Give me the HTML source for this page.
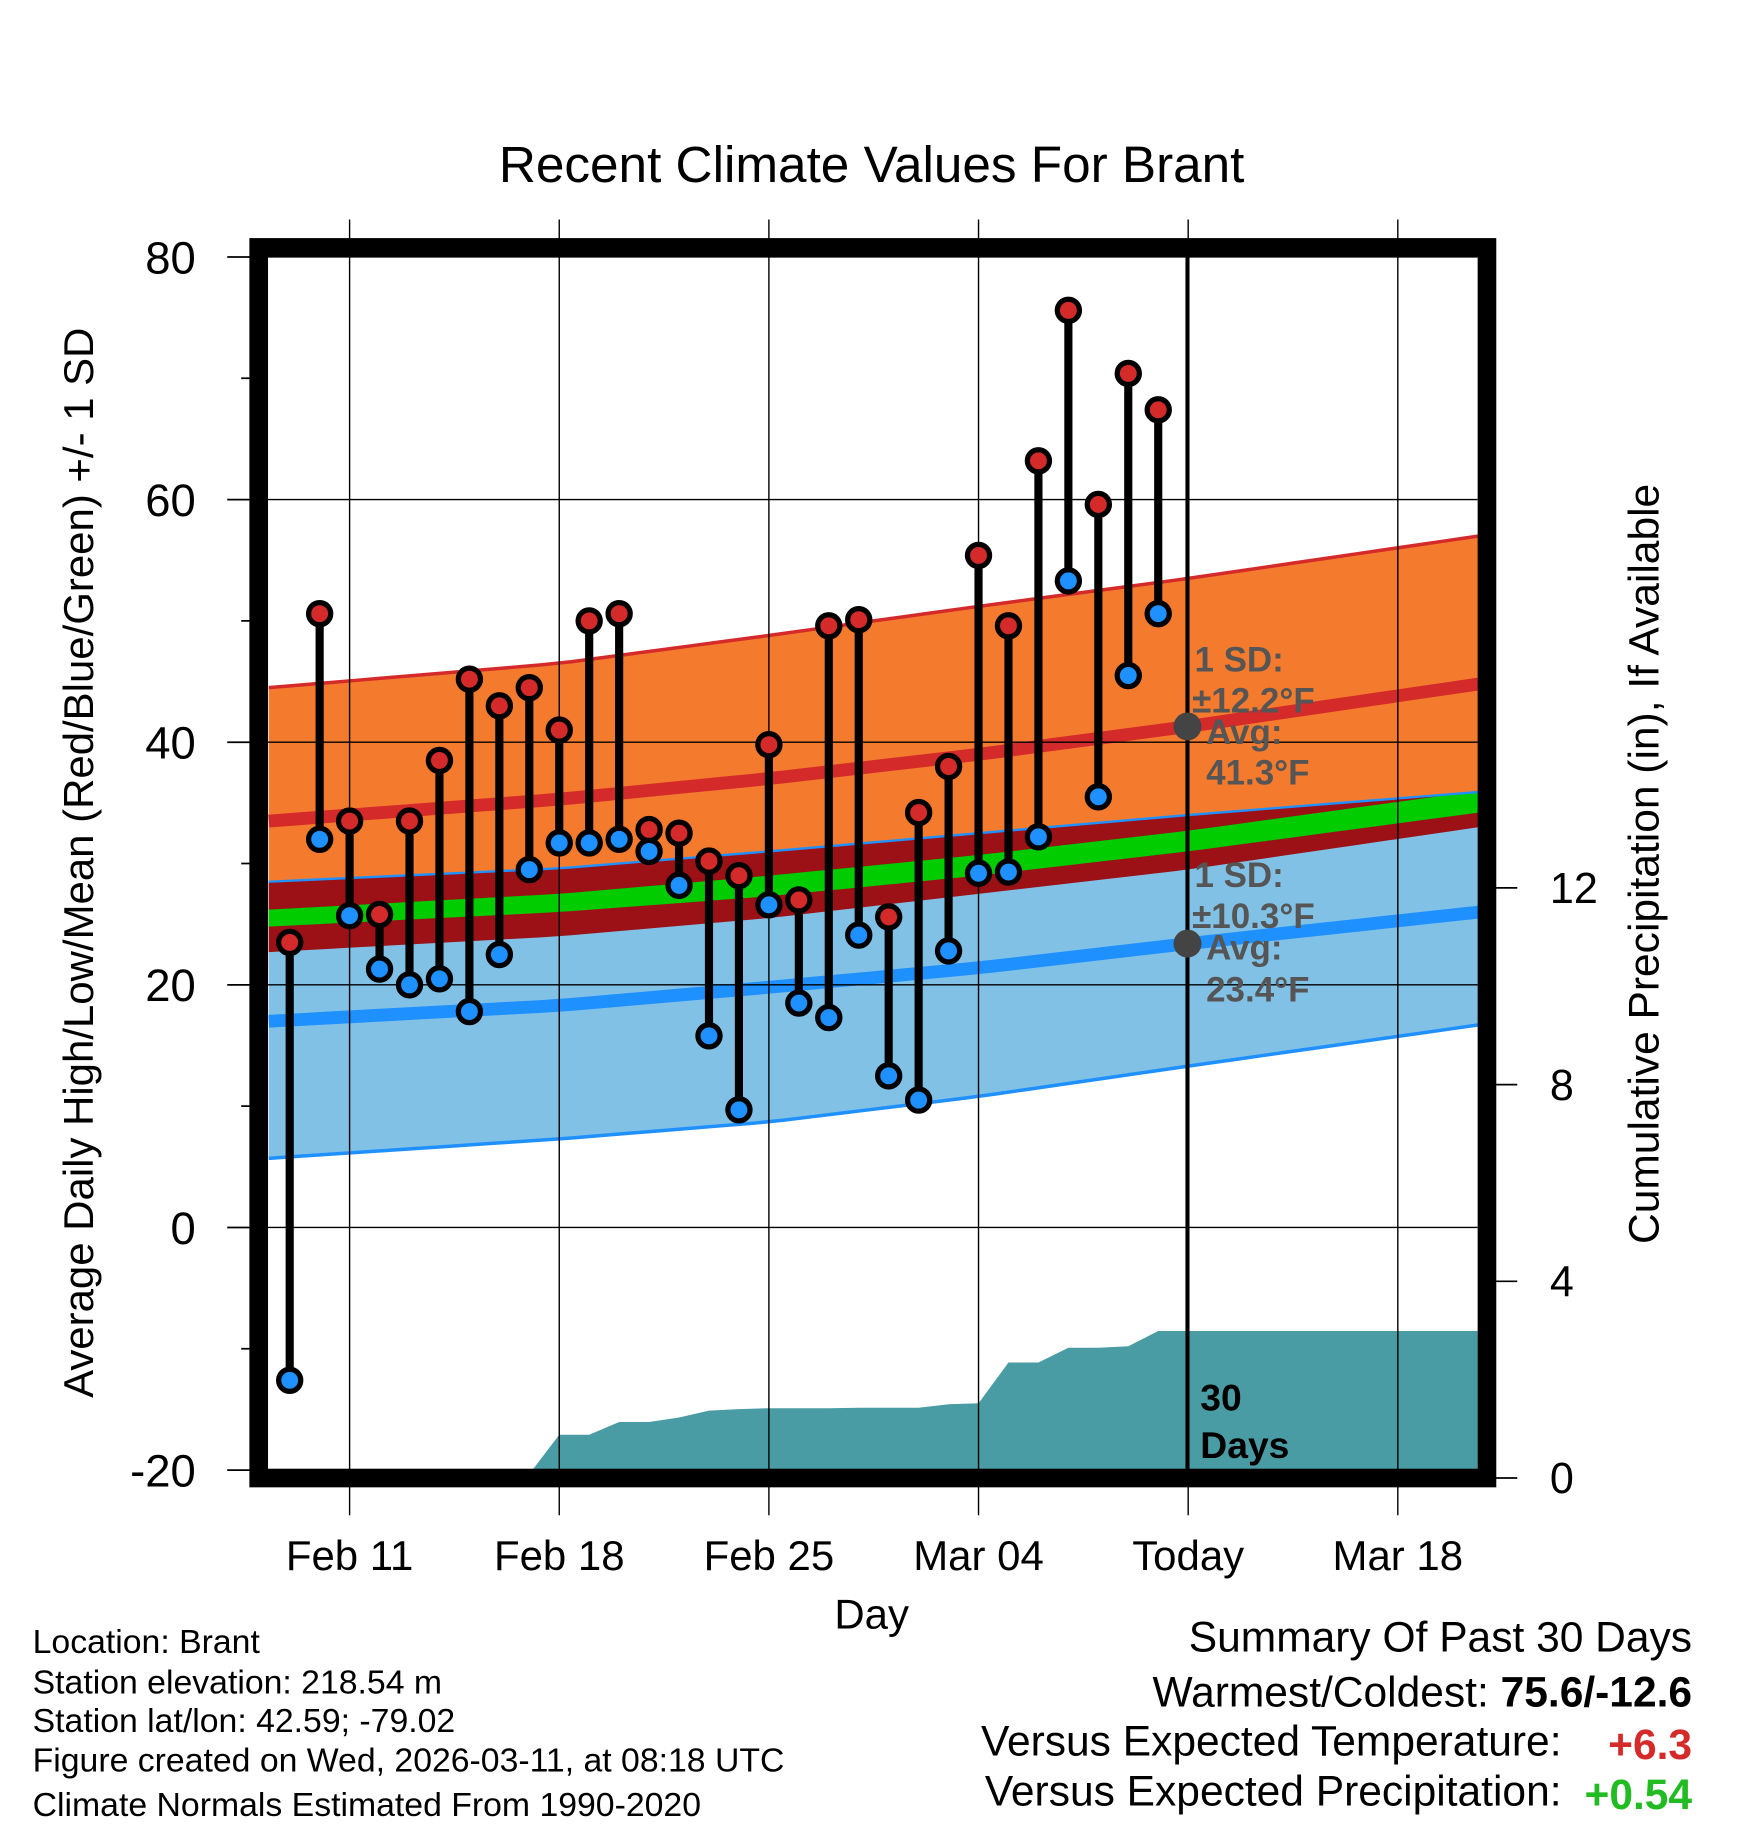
<!DOCTYPE html>
<html><head><meta charset="utf-8"><style>html,body{margin:0;padding:0;background:#fff}svg{display:block}text{font-family:"Liberation Sans",Arial,sans-serif}</style></head>
<body>
<svg id="chart" width="1748" height="1828" viewBox="0 0 1500 1568" xmlns="http://www.w3.org/2000/svg">
<g id="bg"></g>
</svg>
<script>
// ---- data ----
const days = [-2,-1,0,1,2,3,4,5,6,7,8,9,10,11,12,13,14,15,16,17,18,19,20,21,22,23,24,25,26,27];
const highs = [23.5,50.6,33.5,25.8,33.5,38.5,45.2,43,44.5,41,50,50.6,32.8,32.5,30.2,29,39.8,27,49.6,50.1,25.6,34.2,38,55.4,49.6,63.2,75.6,59.6,70.4,67.4];
const lows = [-12.6,32,25.7,21.3,20,20.5,17.8,22.5,29.5,31.7,31.7,32,31,28.2,15.8,9.7,26.6,18.5,17.3,24.1,12.5,10.5,22.8,29.2,29.3,32.2,53.3,35.5,45.5,50.6];
const precip = [0.03,0.04,0.06,0.08,0.08,0.08,0.08,0.08,0.08,0.88,0.88,1.14,1.14,1.23,1.37,1.4,1.42,1.42,1.42,1.43,1.43,1.43,1.5,1.52,2.35,2.35,2.65,2.65,2.68,2.99];
const normDays = [-2.7,7,14,21,28,37.7];
const highMean = [33.5,35.3,37,39,41.3,44.8];
const highTop = [44.5,46.5,48.8,51.2,53.5,57];
const lowMean = [17,18.3,19.8,21.4,23.4,26];
const lowTop = [28.5,29.6,31,32.5,34,35.9];
const lowBottom = [5.7,7.3,8.7,10.8,13.3,16.7];
const meanLo = [22.7,24,25.5,27.5,29.5,33];
const greenLo = [24.8,26,27.3,29,31,34.2];
const greenHi = [26.2,27.5,29,30.7,32.7,36];
const yTicks = [80,60,40,20,0,-20];
const pTicks = [0,4,8,12];
const xLabels = ["Feb 11","Feb 18","Feb 25","Mar 04","Today","Mar 18"];
const xLabelDays = [0,7,14,21,28,35];

// ---- axes ----
const X = d => 300 + d*25.7;
const Y = v => 1053 - v*10.41;
const P = p => 1268 - p*42.2;
const NS='http://www.w3.org/2000/svg';
const svg=document.getElementById('chart');
function el(tag,attrs,parent,txt){const e=document.createElementNS(NS,tag);for(const k in attrs)e.setAttribute(k,attrs[k]);if(txt!==undefined)e.textContent=txt;(parent||svg).appendChild(e);return e;}
function interp(arr){const pts=[];for(let i=0;i<=40;i++){const d=-2.7+i*(40.4/40);let k=0;while(k<normDays.length-2&&d>normDays[k+1])k++;const t=(d-normDays[k])/(normDays[k+1]-normDays[k]);pts.push([X(d),Y(arr[k]+t*(arr[k+1]-arr[k]))]);}return pts;}
function band(top,bot,fill,name){const a=interp(top),b=interp(bot).reverse();const p=el('path',{d:'M'+a.concat(b).map(q=>q.join(',')).join('L')+'Z',fill:fill});


return p;}
function line(arr,color,w,name){const p=el('path',{d:'M'+interp(arr).map(q=>q.join(',')).join('L'),fill:'none',stroke:color,'stroke-width':w});

}

// bands
band(highTop,highMean.map(v=>v-12.2),'#f47b2e','high-sd-band');
band(lowTop,lowBottom,'#82c1e6','low-sd-band');
band(lowTop,meanLo,'#9b1116','mean-band');
band(greenHi,greenLo,'#00cc00','mean-green-band');
line(highTop,'#d42a2a',3,'high-sd-top-line');
line(highMean,'#d42a2a',11,'high-mean-line');
line(lowTop,'#1e90ff',2,'low-sd-top-line');
line(lowMean,'#1e90ff',11,'low-mean-line');
line(lowBottom,'#1e90ff',3,'low-sd-bottom-line');

// precip area
let pd='M230,'+P(0)+'L230,'+P(precip[0]);
days.forEach((d,i)=>{pd+='L'+X(d)+','+P(precip[i]);});
pd+='L1268,'+P(precip[precip.length-1])+'L1268,'+P(0)+'Z';
const pa=el('path',{d:pd,fill:'#4a9ca4'});



// grid
yTicks.forEach(v=>{el('line',{x1:230,x2:1268,y1:Y(v),y2:Y(v),stroke:'#000','stroke-width':1.2});
el('line',{x1:195,x2:222,y1:Y(v),y2:Y(v),stroke:'#000','stroke-width':1.5});
const t=el('text',{x:168,y:Y(v)+14,'text-anchor':'end','font-size':39},svg,String(v));

});
for(let v=-10;v<80;v+=20)el('line',{x1:207,x2:222,y1:Y(v),y2:Y(v),stroke:'#000','stroke-width':1.5});
xLabelDays.forEach((d,i)=>{el('line',{x1:X(d),x2:X(d),y1:188,y2:1300,stroke:'#000','stroke-width':1.2});
const t=el('text',{x:X(d),y:1347,'text-anchor':'middle','font-size':36},svg,xLabels[i]);

});
pTicks.forEach(p=>{el('line',{x1:1276,x2:1302,y1:P(p),y2:P(p),stroke:'#000','stroke-width':1.5});
const t=el('text',{x:1330,y:P(p)+13,'font-size':37},svg,String(p));

});

// today line
el('line',{x1:1019,x2:1019,y1:220,y2:1261,stroke:'#000','stroke-width':3.5});

// stems and markers
days.forEach((d,i)=>{const s=el('line',{x1:X(d),x2:X(d),y1:Y(highs[i]),y2:Y(lows[i]),stroke:'#000','stroke-width':7});

});
days.forEach((d,i)=>{const h=el('circle',{cx:X(d),cy:Y(highs[i]),r:9.5,fill:'#d42a2a',stroke:'#000','stroke-width':4.5});


const l=el('circle',{cx:X(d),cy:Y(lows[i]),r:9.5,fill:'#1e90ff',stroke:'#000','stroke-width':4.5});

});

// today normals annotation
el('circle',{cx:1019,cy:Y(41.3),r:12,fill:'#444'});
el('circle',{cx:1019,cy:Y(23.4),r:12,fill:'#444'});
</script>
<svg style="position:absolute;left:0;top:0" width="1748" height="1828" viewBox="0 0 1500 1568" xmlns="http://www.w3.org/2000/svg">
<rect x="222" y="212" width="1054" height="1056" fill="none" stroke="#000" stroke-width="16"/>
<g font-weight="bold" font-size="30" fill="#555">
<text x="1025" y="576">1 SD:</text><text x="1023" y="611">±12.2°F</text><text x="1035" y="638">Avg:</text><text x="1035" y="673">41.3°F</text>
<text x="1025" y="761">1 SD:</text><text x="1023" y="796">±10.3°F</text><text x="1035" y="823">Avg:</text><text x="1035" y="859">23.4°F</text>
</g>
<text x="1030" y="1210" font-weight="bold" font-size="32">30</text>
<text x="1030" y="1251" font-weight="bold" font-size="32">Days</text>
<text x="748" y="156" text-anchor="middle" font-size="44">Recent Climate Values For Brant</text>
<text transform="translate(80,740) rotate(-90)" text-anchor="middle" font-size="36">Average Daily High/Low/Mean (Red/Blue/Green) +/- 1 SD</text>
<text transform="translate(1423,741) rotate(-90)" text-anchor="middle" font-size="36.5">Cumulative Precipitation (in), If Available</text>
<text x="748" y="1397" text-anchor="middle" font-size="36">Day</text>
<g font-size="29">
<text x="28" y="1418">Location: Brant</text>
<text x="28" y="1453">Station elevation: 218.54 m</text>
<text x="28" y="1486">Station lat/lon: 42.59; -79.02</text>
<text x="28" y="1520">Figure created on Wed, 2026-03-11, at 08:18 UTC</text>
<text x="28" y="1558">Climate Normals Estimated From 1990-2020</text>
</g>
<g font-size="36.5">
<text x="1452" y="1417" text-anchor="end">Summary Of Past 30 Days</text>
<text x="1452" y="1464" text-anchor="end">Warmest/Coldest: <tspan font-weight="bold">75.6/-12.6</tspan></text>
<text x="1340" y="1506" text-anchor="end">Versus Expected Temperature:</text>
<text x="1452" y="1509" text-anchor="end" font-weight="bold" fill="#d42a2a">+6.3</text>
<text x="1340" y="1549" text-anchor="end">Versus Expected Precipitation:</text>
<text x="1452" y="1552" text-anchor="end" font-weight="bold" fill="#22bb22">+0.54</text>
</g>
</svg>
</body></html>
